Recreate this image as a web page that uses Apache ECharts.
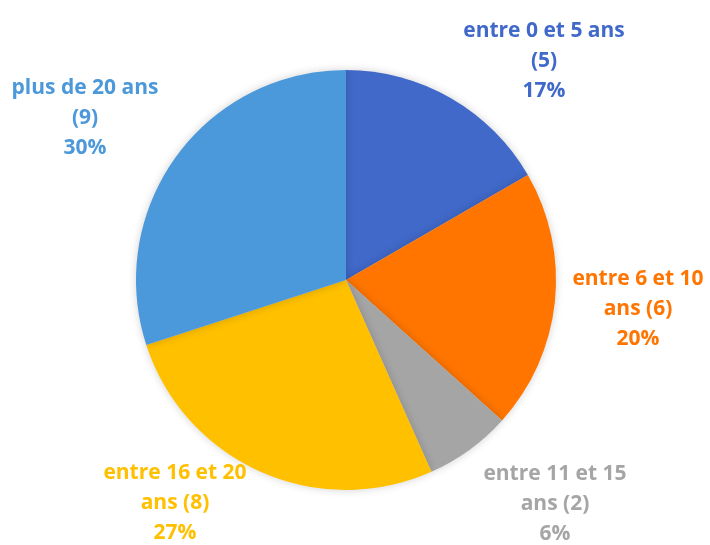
<!DOCTYPE html>
<html>
<head>
<meta charset="utf-8">
<script src="https://cdn.jsdelivr.net/npm/echarts@6/dist/echarts.min.js"></script>
<style>
  html, body { margin: 0; padding: 0; background: #fff; }
  #main { width: 710px; height: 545px; }
</style>
</head>
<body>
<div id="main"></div>
<script>
// données
var categories = ['entre 0 et 5 ans', 'entre 6 et 10 ans', 'entre 11 et 15 ans', 'entre 16 et 20 ans', 'plus de 20 ans'];
var values = [5, 6, 2, 8, 9];
var percents = ['17%', '20%', '6%', '27%', '30%'];
// libellés sur plusieurs lignes, comme dans Excel
var labelLines = [
    ['entre 0 et 5 ans', '(5)'],
    ['entre 6 et 10', 'ans (6)'],
    ['entre 11 et 15', 'ans (2)'],
    ['entre 16 et 20', 'ans (8)'],
    ['plus de 20 ans', '(9)']
];
var colors = ['#4169c9', '#ff7500', '#a5a5a5', '#ffc000', '#4b98da'];
// position des étiquettes (centre du bloc de texte)
var labelPos = [[544, 61], [638, 309], [555, 504], [175, 503], [85, 118]];

var dom = document.getElementById('main');
var myChart = echarts.init(dom);

var data = categories.map(function (c, i) {
    return {
        name: c,
        value: values[i],
        itemStyle: { color: colors[i] },
        label: { color: colors[i] }
    };
});

var option = {
    animation: false,
    series: [
        {
            name: 'ages',
            type: 'pie',
            center: [346, 280],
            radius: [0, 210],
            startAngle: 90,
            clockwise: true,
            itemStyle: {
                borderWidth: 0,
                shadowBlur: 8,
                shadowColor: 'rgba(0,0,0,0.18)'
            },
            label: {
                show: true,
                position: 'outside',
                fontFamily: 'Open Sans',
                fontWeight: 'bold',
                fontSize: 21,
                lineHeight: 30,
                align: 'center',
                overflow: 'none',
                width: 240,
                formatter: function (p) {
                    var l = labelLines[p.dataIndex];
                    return l[0] + '\n' + l[1] + '\n' + percents[p.dataIndex];
                }
            },
            labelLine: { show: false },
            labelLayout: function (params) {
                var p = labelPos[params.dataIndex];
                return {
                    x: p[0],
                    y: p[1],
                    align: 'center',
                    verticalAlign: 'middle'
                };
            },
            emphasis: { disabled: true },
            data: data
        }
    ]
};
myChart.setOption(option);
</script>
</body>
</html>
